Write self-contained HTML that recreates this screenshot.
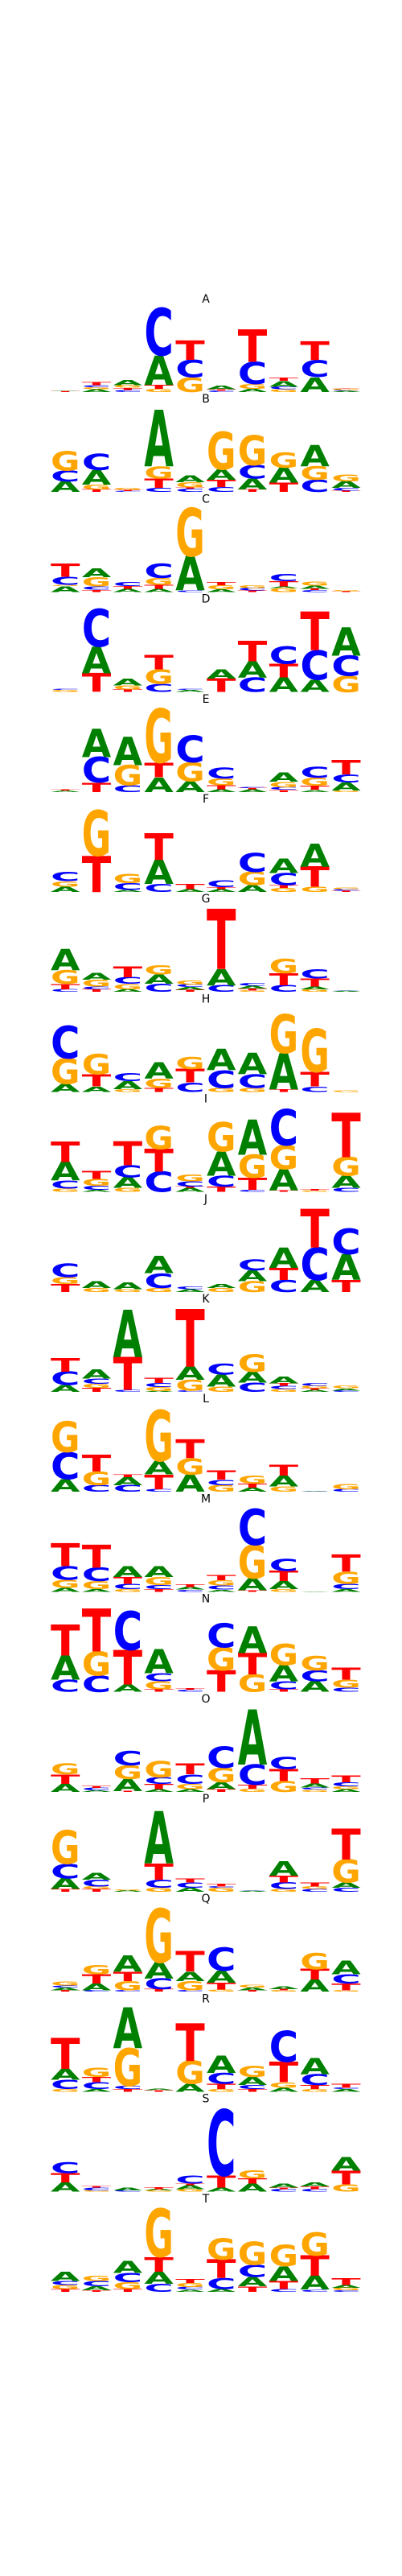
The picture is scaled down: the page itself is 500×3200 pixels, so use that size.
<!DOCTYPE html>
<html><head><meta charset="utf-8">
<style>
html,body{margin:0;padding:0;background:#fff;}
svg{display:block;}
</style></head>
<body>
<svg id="chart" width="500" height="3200" viewBox="0 0 500 3200" xmlns="http://www.w3.org/2000/svg" font-family="'DejaVu Sans','Liberation Sans',sans-serif"></svg>
<script>
// Logo titles
const titles = ["A","B","C","D","E","F","G","H","I","J","K","L","M","N","O","P","Q","R","S","T"];
// Stacked letter heights per position (bottom to top), relative info units
const logoA = ["T3 A2","A10 G8 C7 T12","C8 T8 G10 A19","G12 T15 A110 C175","G55 C65 T72","C5 T6 A14","A12 G18 C82 T120","G10 C10 A22 T12","A55 C63 T70","A4 C3 G5 T2"];
const logoB = ["A40 C40 G72","T10 G18 A55 C60","C4 T4 G7","C15 T35 G45 A210","C12 T5 G20 A25","C18 T28 A38 G140","T10 A40 C50 G112","T35 A56 G57","C45 G50 A80","T5 C10 A25 G25"];
const logoC = ["A22 G4 C30 T48","T8 C12 G35 A32","A12 T10 C15","A12 T15 G25 C55","C5 A128 G180","A10 G15 T12","T5 C10 G10","G15 A5 T20 C28","C7 T5 A12 G15","T3 G4"];
const logoD = ["G8 C4","T70 A100 C140","T10 G15 A25","C30 G55 T55","A8 C4","T50 A35","C55 A60 T75","A55 T50 C65","A45 C110 T145","G60 C75 A105"];
const logoE = ["A6 T4","T35 C95 A105","C25 G75 A105","A55 T55 G200","A40 G70 C100","A10 T15 G25 C40","A10 T5 C3","T8 C10 G20 A35","A8 T15 G30 C40","G5 A30 C30 T55"];
const logoF = ["A20 G20 C35","T135 G170","A8 C25 G35","C30 A90 T100","A10 T20","A10 T8 C25","A25 G50 C70","G15 T10 C45 A55","G20 T75 A85","T5 C5 G5"];
const logoG = ["C10 T20 G50 A80","T10 C10 G25 A25","A10 G20 C25 T40","C30 A35 G35","T8 A10 C10 G15","C25 A60 T225","G5 T8 A10 C10","C25 T45 G55","G10 A10 T30 C35","A3 C2"];
const logoH = ["A30 G95 C120","A20 T45 G75","G10 A30 C30","T15 G35 A60","C35 T50 G45","G15 C65 A80","G15 C50 A80","T10 A135 G145","C20 T55 G160","G5"];
const logoI = ["G12 C30 A70 T75","A8 C15 G25 T30","G15 A40 C45 T90","C75 T85 G85","A15 T5 C20 G25","T20 C40 A90 G110","C8 T45 G85 A130","T5 A80 G90 C135","G5 T5","C15 A45 G70 T165"];
const logoJ = ["T30 G25 C50","G15 A25","G10 A25","G15 C55 A65","A10 C10","G15 A15","G40 A40 C40","C45 T45 A75","A45 C120 T145","T45 A95 C95"];
const logoK = ["A25 C50 T50","T15 G15 C20 A35","C8 T123 A175","A3 G15 C15 T20","C5 G40 A50 T215","G20 A45 C40","C35 A40 G65","G10 C12 T10 A25","A8 T5 G10 C10","C5 A8 G10"];
const logoL = ["A47 C100 G115","C25 G50 T62","C25 A30 T10","C10 T55 A50 G190","A65 G60 T70","G25 C20 T35","A15 T15 G30","G20 A40 T40","C2 A1","C10 G20"];
const logoM = ["A15 G30 C50 T85","A10 G30 C50 T85","G10 C20 T25 A40","T10 C15 G30 A40","C8 A10 T10","A8 C15 G20 T20","T5 A45 G125 C135","G10 A30 T38 C45","A2","A10 C20 G45 T65"];
const logoN = ["C45 A90 T115","C60 G90 T160","A28 T128 C145","T10 G30 C30 A90","C8 T5","T80 G85 C90","G65 T80 A100","T10 C30 A60 G80","A40 C40 G55","C15 G30 T45"];
const logoO = ["A30 T35 G40","A5 C10 T8","T3 A45 G50 C55","A10 T20 C25 G60","A10 G20 C35 T40","T10 A25 G55 C80","G12 T15 C75 A205","G40 T45 C45","G8 C8 A15 T20","A10 G10 C15 T25"];
const logoP = ["T10 A40 C55 G125","T10 G10 C25 A25","A5 G3","G15 C30 T60 A195","A15 C20 T15","G15 C5 T10","A3 C2","G10 C25 T25 A55","C10 G10 T15","C15 A20 G85 T115"];
const logoQ = ["T5 A10 C8 G15","C5 A25 T35 G35","C5 G35 T35 A60","T10 C40 A60 G200","C5 G35 A35 T75","G8 T25 A45 C85","T5 A10 G10","G5 T5 A10","A45 T40 G60","G5 T25 C35 A50"];
const logoR = ["G10 C35 A40 T115","A10 C25 T20 G35","T10 C12 G140 A152","T5 A5","A30 G85 T140","G10 T20 C40 A65","T10 C15 A30 G40","A15 G20 T75 C115","G10 T15 C40 A60","A10 C5 T15"];
const logoS = ["A35 T35 C40","G5 C10 T5","C5 A10","G5 A5 T8","G10 A15 T5 C30","A15 T45 C245","A30 T20 G30","C10 T5 A15","C10 T10 A15","G28 T50 A50"];
const logoT = ["T10 G15 C15 A35","T5 A15 C20 G20","T10 G25 C35 A45","C30 A45 T55 G180","A8 C10 G15 T15","A10 C40 T70 G80","T20 A35 C45 G85","C10 T30 A55 G80","C8 A52 T75 G85","C5 G10 A10 T25"];
const logos = [logoA,logoB,logoC,logoD,logoE,logoF,logoG,logoH,logoI,logoJ,logoK,logoL,logoM,logoN,logoO,logoP,logoQ,logoR,logoS,logoT];

const colors = {A:"#008000",C:"#0000ff",G:"#ffa500",T:"#ff0000"};
const NS = "http://www.w3.org/2000/svg";
const svg = document.getElementById("chart");
const firstBaseline = 487, logoPitch = 124.2;
const colX0 = 63, colPitch = 38.8, colW = 36.5;
function baselineY(i){ return firstBaseline + i*logoPitch; }
function xPos(j){ return colX0 + j*colPitch; }
function hScale(v){ return v/3; }

logos.forEach((logo, i) => {
  const g = document.createElementNS(NS, "g");
  
  
  svg.appendChild(g);
  const t = document.createElementNS(NS, "text");
  
  
  t.setAttribute("x", 256); t.setAttribute("y", baselineY(i) - 111);
  t.setAttribute("text-anchor", "middle"); t.setAttribute("font-size", "14");
  t.setAttribute("fill", "#000");
  t.textContent = titles[i];
  g.appendChild(t);
  logo.forEach((col, j) => {
    let y = baselineY(i);
    col.split(" ").forEach(tok => {
      const letter = tok[0];
      const h = hScale(parseFloat(tok.slice(1)));
      if (h <= 0) return;
      const el = document.createElementNS(NS, "text");
      
      
      el.setAttribute("font-size", "100");
      el.setAttribute("font-weight", "bold");
      el.setAttribute("fill", colors[letter]);
      el.setAttribute("x", 0); el.setAttribute("y", 0);
      el.textContent = letter;
      g.appendChild(el);
      const bb = el.getBBox();
      // tight glyph bounds approximations (cap height ~72.9 of 100)
      const gw = bb.width || 70, capTop = -72.9, capBot = 0;
      const sx = colW / gw, sy = h / (capBot - capTop);
      const x = xPos(j);
      el.setAttribute("transform", `translate(${x - bb.x*sx},${y}) scale(${sx},${sy})`);
      y -= h;
    });
  });
});
</script>
</body></html>
